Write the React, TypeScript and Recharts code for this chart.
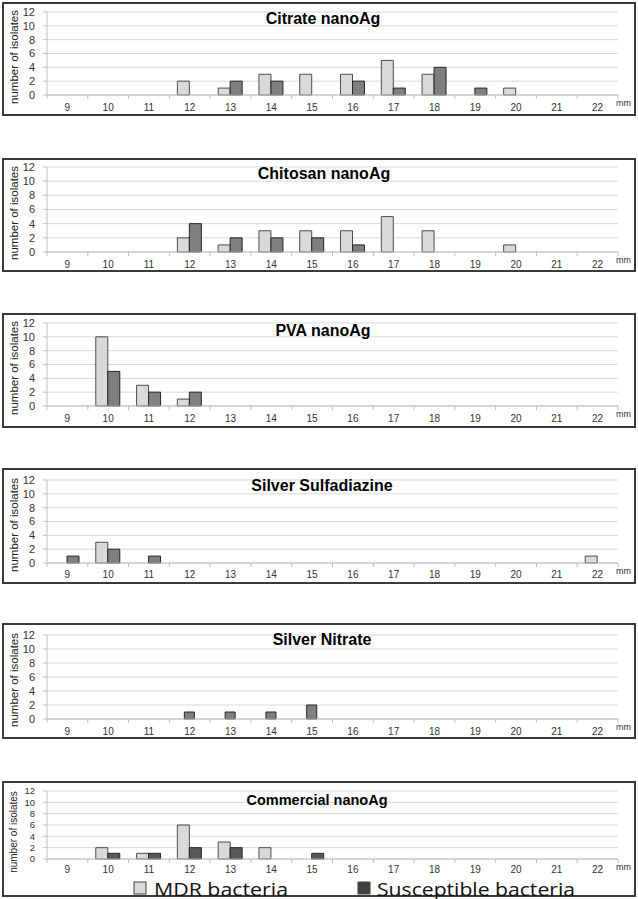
import React from 'react';
import { BarChart, Bar, XAxis, YAxis, CartesianGrid, Legend } from 'recharts';

// ---- data ----
const zoneMm = ['9', '10', '11', '12', '13', '14', '15', '16', '17', '18', '19', '20', '21', '22'];
const yTicks = [0, 2, 4, 6, 8, 10, 12];

const citrateMDR = [0, 0, 0, 2, 1, 3, 3, 3, 5, 3, 0, 1, 0, 0];
const citrateSus = [0, 0, 0, 0, 2, 2, 0, 2, 1, 4, 1, 0, 0, 0];
const chitosanMDR = [0, 0, 0, 2, 1, 3, 3, 3, 5, 3, 0, 1, 0, 0];
const chitosanSus = [0, 0, 0, 4, 2, 2, 2, 1, 0, 0, 0, 0, 0, 0];
const pvaMDR = [0, 10, 3, 1, 0, 0, 0, 0, 0, 0, 0, 0, 0, 0];
const pvaSus = [0, 5, 2, 2, 0, 0, 0, 0, 0, 0, 0, 0, 0, 0];
const sulfadiazineMDR = [0, 3, 0, 0, 0, 0, 0, 0, 0, 0, 0, 0, 0, 1];
const sulfadiazineSus = [1, 2, 1, 0, 0, 0, 0, 0, 0, 0, 0, 0, 0, 0];
const nitrateSus = [0, 0, 0, 1, 1, 1, 2, 0, 0, 0, 0, 0, 0, 0];
const commercialMDR = [0, 2, 1, 6, 3, 2, 0, 0, 0, 0, 0, 0, 0, 0];
const commercialSus = [0, 1, 1, 2, 2, 0, 1, 0, 0, 0, 0, 0, 0, 0];

const seriesNames = { mdr: 'MDR bacteria', sus: 'Susceptible bacteria' };
const titles = ['Citrate nanoAg', 'Chitosan nanoAg', 'PVA nanoAg', 'Silver Sulfadiazine', 'Silver Nitrate', 'Commercial nanoAg'];

const buildRows = (mdr: number[] | null, sus: number[]) =>
  zoneMm.map((mm, i) => ({
    mm,
    mdr: mdr && mdr[i] ? mdr[i] : null,
    sus: sus[i] ? sus[i] : null,
  }));

// ---- layout / style ----
const W = 638;
const PLOT_L = 47;
const PLOT_R = 618;
const STEP = (PLOT_R - PLOT_L) / zoneMm.length;

type Panel = {
  title: string;
  rows: any[];
  hasMdr: boolean;
  boxTop: number;
  boxH: number;
  plotTop: number;
  plotBottom: number;
  titleY: number;
  titleX: number;
  titleSize: number;
  labelOff: number;
  susFill: string;
  yFont: number;
  yLabelFont: number;
  yLabelDy: number;
  legend?: boolean;
  barSize: number;
};

const panels: Panel[] = [
  { title: titles[0], rows: buildRows(citrateMDR, citrateSus), hasMdr: true, boxTop: 2, boxH: 114, plotTop: 12, plotBottom: 95, titleY: 19, titleX: 323, titleSize: 16, labelOff: 12, susFill: '#7f7f7f', yFont: 11, yLabelFont: 11.5, yLabelDy: 3, barSize: 12 },
  { title: titles[1], rows: buildRows(chitosanMDR, chitosanSus), hasMdr: true, boxTop: 158, boxH: 114, plotTop: 167, plotBottom: 252, titleY: 174, titleX: 324, titleSize: 16, labelOff: 12, susFill: '#7f7f7f', yFont: 11, yLabelFont: 11.5, yLabelDy: 3, barSize: 12 },
  { title: titles[2], rows: buildRows(pvaMDR, pvaSus), hasMdr: true, boxTop: 313, boxH: 115, plotTop: 323, plotBottom: 406, titleY: 331, titleX: 323, titleSize: 16, labelOff: 12, susFill: '#7f7f7f', yFont: 11, yLabelFont: 11.5, yLabelDy: 3, barSize: 12 },
  { title: titles[3], rows: buildRows(sulfadiazineMDR, sulfadiazineSus), hasMdr: true, boxTop: 468, boxH: 116, plotTop: 480, plotBottom: 563, titleY: 486, titleX: 322, titleSize: 16, labelOff: 11, susFill: '#7f7f7f', yFont: 11, yLabelFont: 11.5, yLabelDy: 3, barSize: 12 },
  { title: titles[4], rows: buildRows(null, nitrateSus), hasMdr: false, boxTop: 623, boxH: 116, plotTop: 635, plotBottom: 719, titleY: 640, titleX: 322, titleSize: 16, labelOff: 12, susFill: '#7f7f7f', yFont: 11, yLabelFont: 11.5, yLabelDy: 3, barSize: 10 },
  { title: titles[5], rows: buildRows(commercialMDR, commercialSus), hasMdr: true, boxTop: 781, boxH: 116, plotTop: 791, plotBottom: 859, titleY: 800, titleX: 317, titleSize: 14.5, labelOff: 10, susFill: '#595959', yFont: 9.5, yLabelFont: 10, yLabelDy: 7, legend: true, barSize: 12 },
];

const MmTick = (props: any) => {
  const { x, y, payload, index, off } = props;
  return (
    <g>
      <line x1={x - STEP / 2} x2={x - STEP / 2} y1={y} y2={y + 4} stroke="#bfbfbf" />
      {index === zoneMm.length - 1 && <line x1={x + STEP / 2} x2={x + STEP / 2} y1={y} y2={y + 4} stroke="#bfbfbf" />}
      <text x={x} y={y + off} textAnchor="middle" dominantBaseline="central" fontSize={10} fill="#333">
        {payload.value}
      </text>
    </g>
  );
};

const legendSlots = [
  { sq: 134, tx: 154, len: 134 },
  { sq: 358, tx: 377, len: 198 },
];

const LegendBox = (props: any) => {
  const payload = props.payload || [];
  return (
    <svg width={W} height={22} style={{ display: 'block' }}>
      {payload.map((p: any, i: number) => {
        const s = legendSlots[i];
        return (
          <g key={i}>
            <rect x={s.sq} y={5} width={12} height={12} fill={i === 0 ? '#d9d9d9' : '#404040'} stroke="#404040" />
            <text x={s.tx} y={11.5} dominantBaseline="central" fontSize={18} fontFamily="Open Sans" textLength={s.len} lengthAdjust="spacingAndGlyphs" fill="#111">
              {p.value}
            </text>
          </g>
        );
      })}
    </svg>
  );
};

const PanelChart = ({ p }: { p: Panel }) => {
  const top = p.plotTop - p.boxTop;
  const xH = p.boxTop + p.boxH - p.plotBottom;
  const yLabelCy = (p.plotTop + p.plotBottom) / 2 + p.yLabelDy - p.boxTop;
  return (
    <div style={{ position: 'absolute', left: 0, top: p.boxTop, width: W, height: p.boxH }}>
      <div style={{ position: 'absolute', left: 2, top: 0, width: 634, height: p.boxH, border: '2px solid #3a3a3a', boxSizing: 'border-box' }} />
      <BarChart width={W} height={p.boxH} data={p.rows} margin={{ top, right: W - PLOT_R, bottom: 0, left: 0 }} barGap={0}>
        <CartesianGrid horizontal vertical={false} stroke="#d9d9d9" />
        <XAxis
          dataKey="mm"
          interval={0}
          height={xH}
          tickLine={false}
          tickSize={0}
          tickMargin={0}
          axisLine={{ stroke: '#bfbfbf' }}
          tick={(tp: any) => <MmTick {...tp} off={p.labelOff} />}
        />
        <YAxis
          domain={[0, 12]}
          ticks={yTicks}
          interval={0}
          width={PLOT_L}
          tickSize={4}
          tickMargin={8}
          axisLine={{ stroke: '#bfbfbf' }}
          tickLine={{ stroke: '#bfbfbf' }}
          tick={{ fontSize: p.yFont, fill: '#333' }}
        />
        {p.hasMdr && (
          <Bar dataKey="mdr" name={seriesNames.mdr} fill="#d9d9d9" stroke="#4d4d4d" strokeWidth={1} barSize={p.barSize} isAnimationActive={false} />
        )}
        <Bar dataKey="sus" name={seriesNames.sus} fill={p.susFill} stroke="#262626" strokeWidth={1} barSize={p.barSize} isAnimationActive={false} />
        {p.legend && (
          <Legend verticalAlign="middle" align="center" layout="horizontal" content={<LegendBox />} wrapperStyle={{ top: 96, left: 0, width: W, height: 22 }} />
        )}
      </BarChart>
      <div style={{ position: 'absolute', left: p.titleX - 150, top: p.titleY - p.boxTop - 10, width: 300, height: 20, lineHeight: '20px', textAlign: 'center', fontWeight: 'bold', fontSize: p.titleSize, color: '#000' }}>
        {p.title}
      </div>
      <div style={{ position: 'absolute', left: 14 - 60, top: yLabelCy - 8, width: 120, height: 16, lineHeight: '16px', textAlign: 'center', fontSize: p.yLabelFont, color: '#222', transform: 'rotate(-90deg)', whiteSpace: 'nowrap' }}>
        number of isolates
      </div>
      <div style={{ position: 'absolute', left: 616, top: p.plotBottom - p.boxTop + 8 - 6, height: 12, lineHeight: '12px', fontSize: 9, color: '#333' }}>
        mm
      </div>
    </div>
  );
};

export default function App() {
  return (
    <div style={{ position: 'relative', width: W, height: 899, fontFamily: '"Liberation Sans", Arial, sans-serif', background: '#fff', overflow: 'hidden' }}>
      <style>{'body{margin:0}'}</style>
      {panels.map((p, i) => (
        <PanelChart key={i} p={p} />
      ))}
    </div>
  );
}
